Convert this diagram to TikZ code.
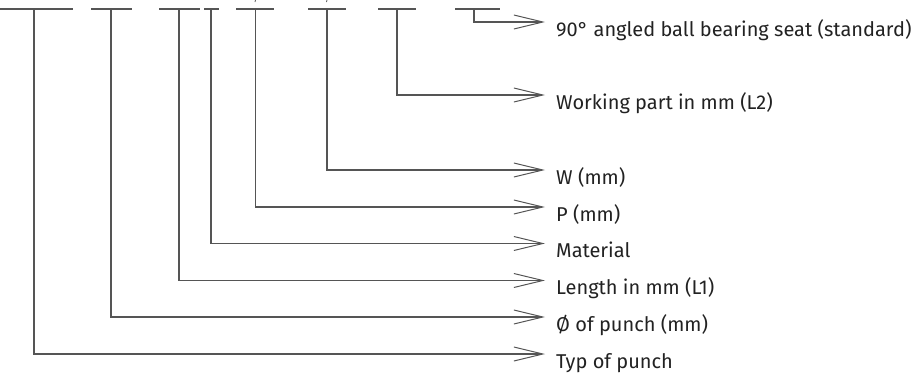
\documentclass[tikz,border=0pt]{standalone}
\usepackage{fontspec}
\setmainfont{Fira Sans}
\usetikzlibrary{arrows.meta}
\definecolor{linegray}{HTML}{555555}
\definecolor{txt}{HTML}{222222}
\begin{document}
\begin{tikzpicture}[x=1pt,y=-1pt,
  ln/.style={draw=linegray,line width=1.1pt},
  conn/.style={ln,-{Straight Barb[length=29pt,width=14pt,line width=1pt]}},
  lbl/.style={anchor=base west,inner sep=0pt,font=\fontsize{20}{24}\selectfont,text=txt},
]
\useasboundingbox (0,0) rectangle (915,378);
% top bars: left, right, stem x
\foreach \n/\l/\r/\v in {a/0/73/34, b/91/132/111, c/159/200/179, d/204/219/211,
                        e/236/274/255.5, f/308/346/327, g/378/416/397, h/455/500/474}{
  \coordinate (bl\n) at (\l,9);
  \coordinate (br\n) at (\r,9);
  \coordinate (v\n) at (\v,9);
  \draw[ln] (bl\n) -- (br\n);
}
% tiny marks above
\coordinate (ma1) at (255.5,0); \coordinate (ma2) at (255,2);
\coordinate (mb1) at (327,0);   \coordinate (mb2) at (326.5,2);
\draw[ln,line width=0.8pt] (ma1) -- (ma2);
\draw[ln,line width=0.8pt] (mb1) -- (mb2);
% arrow tips and labels
\foreach \n/\y/\t in {h/22/{90° angled ball bearing seat (standard)},
                      g/95/{Working part in mm (L2)},
                      f/170/{W (mm)},
                      e/207/{P (mm)},
                      d/243.5/{Material},
                      c/280.5/{Length in mm (L1)},
                      b/317/{Ø of punch (mm)},
                      a/354/{Typ of punch}}{
  \coordinate (t\n) at (545,\y);
  \node[lbl] (l\n) at (556,\y+14) {\t};
  \draw[conn] (v\n) |- (t\n);
}
\end{tikzpicture}
\end{document}
